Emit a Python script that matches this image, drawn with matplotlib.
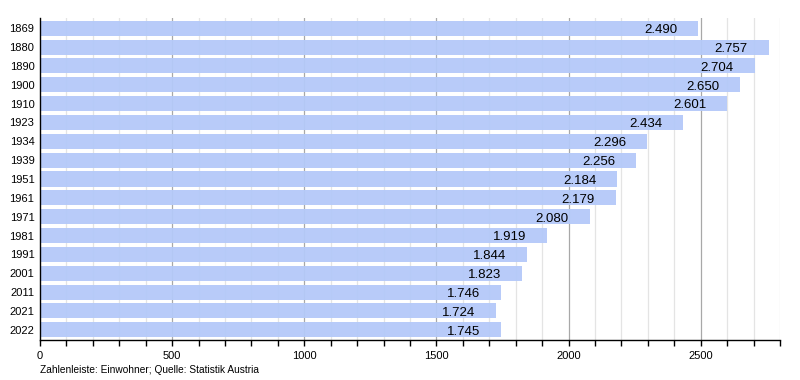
import matplotlib.pyplot as plt
import numpy as np

## -----------------------------------------------------------------------------
## Population bar chart (Einwohner)
## -----------------------------------------------------------------------------

plt.rcParams["font.family"] = ["Liberation Sans", "DejaVu Sans"]

years = ["1869", "1880", "1890", "1900", "1910", "1923", "1934", "1939", "1951",
         "1961", "1971", "1981", "1991", "2001", "2011", "2021", "2022"]
population = [2490, 2757, 2704, 2650, 2601, 2434, 2296, 2256, 2184,
              2179, 2080, 1919, 1844, 1823, 1746, 1724, 1745]

bar_color = "#b4c9f9"

fig = plt.figure(figsize=(8, 3.8), dpi=100)
ax = fig.add_axes([0.05, 0.105, 0.925, 0.848])

y = np.arange(len(years))

# grid lines: light every 100, darker every 500
for v in range(100, 2801, 100):
    if v % 500 == 0:
        ax.axvline(v, color="#a8a8a8", lw=0.9, zorder=0)
    else:
        ax.axvline(v, color="#e4e4e4", lw=0.9, zorder=0)

ax.barh(y, population, height=0.8, color=bar_color, zorder=2, alpha=0.95)

for yi, val in zip(y, population):
    label = "{:,}".format(val).replace(",", ".")
    ax.annotate(label, (val, yi), xytext=(-15, -3.5), textcoords="offset points",
                ha="right", va="baseline", fontsize=9.5, zorder=3)

ax.set_ylim(len(years) - 0.45, -0.55)
ax.set_xlim(0, 2800)
ax.set_yticks(y)
ax.set_yticklabels(years, fontsize=8)
ax.tick_params(axis="y", length=0, pad=4)
ax.set_xticks(range(0, 2801, 500))
ax.set_xticks(range(0, 2801, 100), minor=True)
ax.tick_params(axis="x", which="both", direction="out", length=4, width=1, labelsize=8)

for side in ["top", "right"]:
    ax.spines[side].set_visible(False)
ax.spines["left"].set_linewidth(1)
ax.spines["bottom"].set_linewidth(1)

fig.text(0.05, 0.018, "Zahlenleiste: Einwohner; Quelle: Statistik Austria", fontsize=7.3)

plt.savefig("out.png", dpi=100)
